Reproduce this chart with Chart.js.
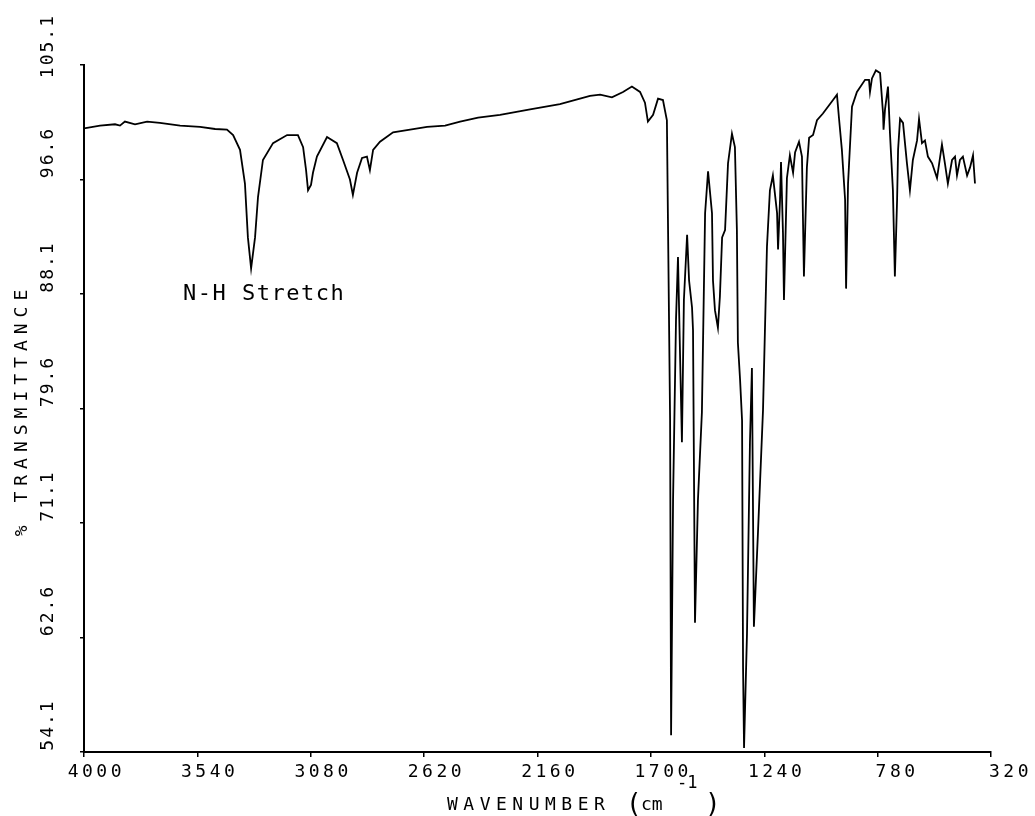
<!DOCTYPE html>
<html>
<head>
<meta charset="utf-8">
<script src="https://cdn.jsdelivr.net/npm/chart.js@4.4.1/dist/chart.umd.min.js"></script>
<style>
  html, body { margin: 0; padding: 0; background: #fff; }
  #wrap { width: 1035px; height: 816px; }
</style>
</head>
<body>
<div id="wrap"><canvas id="irChart" width="1035" height="816"></canvas></div>
<script>
// IR spectrum (cm-1 vs % transmittance)
const wavenumbers = [
  4000, 3935, 3874, 3854, 3834, 3793, 3744, 3692, 3610, 3529, 3468, 3420, 3395, 3367, 3347, 3335, 3322, 3306, 3294, 3274,
  3233, 3176, 3132, 3111, 3099, 3091, 3079, 3071, 3055, 3014, 2974, 2949, 2921, 2909, 2892, 2872, 2852, 2840, 2827, 2799,
  2746, 2677, 2608, 2535, 2474, 2401, 2312, 2190, 2069, 1947, 1906, 1858, 1813, 1777, 1744, 1724, 1712, 1691, 1671, 1651,
  1635, 1631, 1622, 1618, 1610, 1598, 1590, 1582, 1574, 1566, 1553, 1545, 1533, 1529, 1521, 1509, 1493, 1480, 1468, 1452,
  1448, 1440, 1428, 1420, 1411, 1399, 1387, 1371, 1359, 1351, 1347, 1338, 1330, 1326, 1322, 1310, 1298, 1290, 1282, 1265,
  1245, 1229, 1217, 1205, 1188, 1184, 1176, 1172, 1164, 1160, 1148, 1136, 1123, 1115, 1099, 1087, 1083, 1079, 1067, 1058,
  1042, 1026, 1002, 961, 945, 937, 925, 912, 908, 900, 884, 864, 831, 815, 811, 803, 787, 770, 758, 756,
  750, 738, 730, 718, 710, 701, 697, 689, 677, 661, 649, 637, 620, 612, 600, 588, 576, 559, 539, 519,
  507, 495, 478, 466, 458, 446, 434, 417, 405, 393, 385
];
const transmittance = [
  100.4, 100.6, 100.7, 100.6, 100.9, 100.7, 100.9, 100.8, 100.6, 100.5, 100.35, 100.3, 99.9, 98.8, 96.3, 92.3, 90.0, 92.3, 95.3, 98.05,
  99.3, 99.9, 99.9, 99.0, 97.3, 95.8, 96.2, 97.1, 98.3, 99.75, 99.3, 98.05, 96.6, 95.45, 97.1, 98.2, 98.3, 97.3, 98.8, 99.4,
  100.1, 100.3, 100.5, 100.6, 100.9, 101.2, 101.4, 101.8, 102.2, 102.8, 102.9, 102.7, 103.1, 103.5, 103.1, 102.3, 100.9, 101.4, 102.6, 102.5,
  101.0, 94.1, 78.7, 55.35, 72.8, 86.2, 90.85, 83.9, 77.1, 87.65, 92.5, 89.1, 87.1, 85.4, 63.7, 72.8, 79.3, 94.1, 97.2, 94.1,
  89.1, 86.9, 85.6, 87.9, 92.3, 92.85, 97.8, 100.0, 99.0, 92.85, 84.5, 81.7, 78.7, 60.4, 54.4, 62.9, 77.1, 82.6, 63.4, 70.6,
  79.5, 91.6, 95.8, 96.9, 94.1, 91.4, 95.1, 97.9, 92.6, 87.65, 96.7, 98.4, 97.1, 98.6, 99.4, 98.3, 93.8, 89.4, 97.5, 99.7,
  99.9, 101.0, 101.5, 102.5, 102.9, 101.2, 98.8, 95.1, 88.5, 96.3, 102.0, 103.1, 104.0, 104.0, 103.1, 104.1, 104.7, 104.5, 101.5, 100.3,
  101.8, 103.5, 100.05, 95.8, 89.4, 95.1, 98.8, 101.1, 100.8, 97.8, 95.8, 98.05, 99.5, 101.1, 99.3, 99.5, 98.3, 97.8, 96.7, 99.2,
  97.8, 96.3, 98.05, 98.3, 96.9, 98.05, 98.3, 96.9, 97.5, 98.4, 96.3
];

const xTicks = [4000, 3540, 3080, 2620, 2160, 1700, 1240, 780, 320];
const yTicks = [54.1, 62.6, 71.1, 79.6, 88.1, 96.6, 105.1];
const yTitle = '% TRANSMITTANCE';
const xTitle = 'WAVENUMBER';
const peakNote = 'N-H Stretch';

const MONO = '"DejaVu Sans Mono", "Liberation Mono", monospace';

// plotter style labels, drawn on top of chart.js scales
const labelPlugin = {
  id: 'plotterLabels',
  afterDraw(chart) {
    const ctx = chart.ctx;
    const xs = chart.scales.x, ys = chart.scales.y;
    ctx.save();
    ctx.fillStyle = '#000';

    // x tick labels
    ctx.font = '18px ' + MONO;
    ctx.letterSpacing = '3.5px';
    ctx.textAlign = 'right';
    ctx.textBaseline = 'alphabetic';
    xTicks.forEach(v => {
      const px = xs.getPixelForValue(v);
      ctx.fillText(String(v), px + 41, 777);
    });

    // y tick labels (rotated)
    ctx.letterSpacing = '2px';
    yTicks.forEach(v => {
      const py = ys.getPixelForValue(v);
      const txt = v.toFixed(1);
      const w = ctx.measureText(txt).width;
      let cy = py - 27;
      if (cy - w / 2 < 14) cy = 14 + w / 2;
      ctx.save();
      ctx.translate(48, cy);
      ctx.rotate(-Math.PI / 2);
      ctx.textAlign = 'center';
      ctx.textBaseline = 'middle';
      ctx.fillText(txt, 0, 0);
      ctx.restore();
    });

    // y title
    ctx.letterSpacing = '6px';
    ctx.save();
    ctx.translate(22, 410);
    ctx.rotate(-Math.PI / 2);
    ctx.textAlign = 'center';
    ctx.textBaseline = 'middle';
    ctx.fillText(yTitle, 0, 0);
    ctx.restore();

    // x title with (cm^-1)
    ctx.textAlign = 'left';
    ctx.letterSpacing = '5.5px';
    ctx.fillText(xTitle, 447, 810);
    ctx.letterSpacing = '0px';
    ctx.font = '26px ' + MONO;
    ctx.fillText('(', 626, 812);
    ctx.fillText(')', 705, 812);
    ctx.font = '18px ' + MONO;
    ctx.fillText('cm', 641, 810);
    ctx.font = '17px ' + MONO;
    ctx.fillText('-1', 677, 788);

    // annotation
    ctx.font = '22px ' + MONO;
    ctx.letterSpacing = '1.5px';
    ctx.fillText(peakNote, 183, 300);
    ctx.restore();
  }
};

const ctx = document.getElementById('irChart').getContext('2d');
const chart = new Chart(ctx, {
  type: 'line',
  data: {
    datasets: [{
      data: wavenumbers.map((w, i) => ({ x: w, y: transmittance[i] })),
      borderColor: '#000',
      borderWidth: 1.8,
      pointRadius: 0,
      tension: 0,
      fill: false
    }]
  },
  options: {
    responsive: false,
    devicePixelRatio: 1,
    animation: false,
    layout: { padding: { left: 4, right: 44, top: 65, bottom: 0 } },
    plugins: { legend: { display: false }, tooltip: { enabled: false } },
    scales: {
      x: {
        type: 'linear',
        reverse: true,
        min: 320,
        max: 4000,
        afterBuildTicks: s => { s.ticks = xTicks.map(v => ({ value: v })); },
        afterFit: s => { s.height = 64; },
        ticks: { display: false },
        grid: { drawOnChartArea: false, drawTicks: true, tickLength: 5, color: '#000', lineWidth: 1.5 },
        border: { display: true, color: '#000', width: 2 }
      },
      y: {
        min: 54.1,
        max: 105.1,
        afterBuildTicks: s => { s.ticks = yTicks.map(v => ({ value: v })); },
        afterFit: s => { s.width = 80; },
        ticks: { display: false },
        grid: { drawOnChartArea: false, drawTicks: true, tickLength: 4, color: '#000', lineWidth: 1.5 },
        border: { display: true, color: '#000', width: 2 }
      }
    }
  },
  plugins: [labelPlugin]
});
</script>
</body>
</html>
